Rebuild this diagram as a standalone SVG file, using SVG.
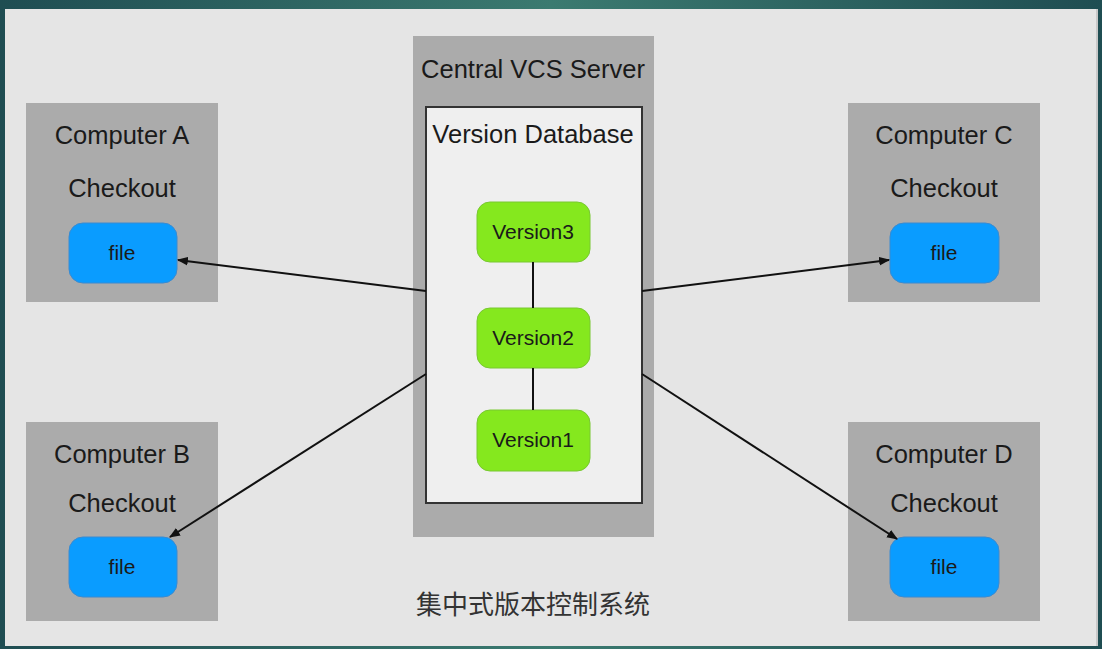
<svg xmlns="http://www.w3.org/2000/svg" width="1102" height="649" viewBox="0 0 1102 649">
  <defs>
    <linearGradient id="frame" x1="0" y1="0" x2="1" y2="0">
      <stop offset="0" stop-color="#1f4d52"/>
      <stop offset="0.5" stop-color="#3b7a70"/>
      <stop offset="1" stop-color="#1f4d52"/>
    </linearGradient>
    <marker id="arrow" viewBox="0 0 10 10" refX="9" refY="5" markerWidth="11" markerHeight="11" markerUnits="userSpaceOnUse" orient="auto">
      <path d="M0,1 L10,5 L0,9 z" fill="#111"/>
    </marker>
  </defs>
  <style>
    .comp { fill: #ababab; }
    .file { fill: #0a9cff; stroke: #3a8ad0; stroke-width: 1; }
    .ver { fill: #85e81e; stroke: #78c830; stroke-width: 1; }
    .lbl { font-family: "Liberation Sans", Arial, sans-serif; fill: #1a1a1a; text-anchor: middle; }
    .big { font-size: 25.5px; }
    .small { font-size: 21px; }
    .conn { stroke: #111; stroke-width: 2; fill: none; }
  </style>

  <rect x="0" y="0" width="1102" height="649" fill="url(#frame)"/>
  <rect x="5" y="9" width="1093" height="637" fill="#e5e5e5"/>
  <rect x="1096" y="9" width="2" height="637" fill="#c8c8c8"/>

  <g id="server">
    <rect x="413" y="36" width="241" height="501" fill="#ababab"/>
    <text class="lbl big" x="533" y="78">Central VCS Server</text>
    <rect x="426" y="107" width="216" height="396" fill="#efefef" stroke="#333" stroke-width="2"/>
    <text class="lbl big" x="533" y="143">Version Database</text>
  </g>

  <g id="version3">
    <rect class="ver" x="477" y="202" width="113" height="60" rx="13"/>
    <text class="lbl small" x="533" y="239">Version3</text>
  </g>
  <g id="version2">
    <rect class="ver" x="477" y="308" width="113" height="60" rx="13"/>
    <text class="lbl small" x="533" y="345">Version2</text>
  </g>
  <g id="version1">
    <rect class="ver" x="477" y="410" width="113" height="61" rx="13"/>
    <text class="lbl small" x="533" y="447">Version1</text>
  </g>

  <g id="computerA">
    <rect class="comp" x="26" y="103" width="192" height="199"/>
    <text class="lbl big" x="122" y="144">Computer A</text>
    <text class="lbl big" x="122" y="197">Checkout</text>
    <rect class="file" x="69" y="223" width="108" height="60" rx="14"/>
    <text class="lbl small" x="122" y="260">file</text>
  </g>
  <g id="computerB">
    <rect class="comp" x="26" y="422" width="192" height="199"/>
    <text class="lbl big" x="122" y="463">Computer B</text>
    <text class="lbl big" x="122" y="512">Checkout</text>
    <rect class="file" x="69" y="537" width="108" height="60" rx="14"/>
    <text class="lbl small" x="122" y="574">file</text>
  </g>
  <g id="computerC">
    <rect class="comp" x="848" y="103" width="192" height="199"/>
    <text class="lbl big" x="944" y="144">Computer C</text>
    <text class="lbl big" x="944" y="197">Checkout</text>
    <rect class="file" x="890" y="223" width="109" height="60" rx="14"/>
    <text class="lbl small" x="944" y="260">file</text>
  </g>
  <g id="computerD">
    <rect class="comp" x="848" y="422" width="192" height="199"/>
    <text class="lbl big" x="944" y="463">Computer D</text>
    <text class="lbl big" x="944" y="512">Checkout</text>
    <rect class="file" x="890" y="537" width="109" height="60" rx="14"/>
    <text class="lbl small" x="944" y="574">file</text>
  </g>

  <g id="connectors">
    <line class="conn" x1="533" y1="262" x2="533" y2="308"/>
    <line class="conn" x1="533" y1="368" x2="533" y2="410"/>
    <line class="conn" x1="426" y1="291" x2="178" y2="260" marker-end="url(#arrow)"/>
    <line class="conn" x1="426" y1="374" x2="170" y2="537" marker-end="url(#arrow)"/>
    <line class="conn" x1="642" y1="291" x2="889" y2="260" marker-end="url(#arrow)"/>
    <line class="conn" x1="642" y1="374" x2="897" y2="539" marker-end="url(#arrow)"/>
  </g>

  <text x="533" y="614" font-family="'Noto Sans CJK SC', sans-serif" font-size="26" fill="#333" text-anchor="middle">集中式版本控制系统</text>
</svg>
